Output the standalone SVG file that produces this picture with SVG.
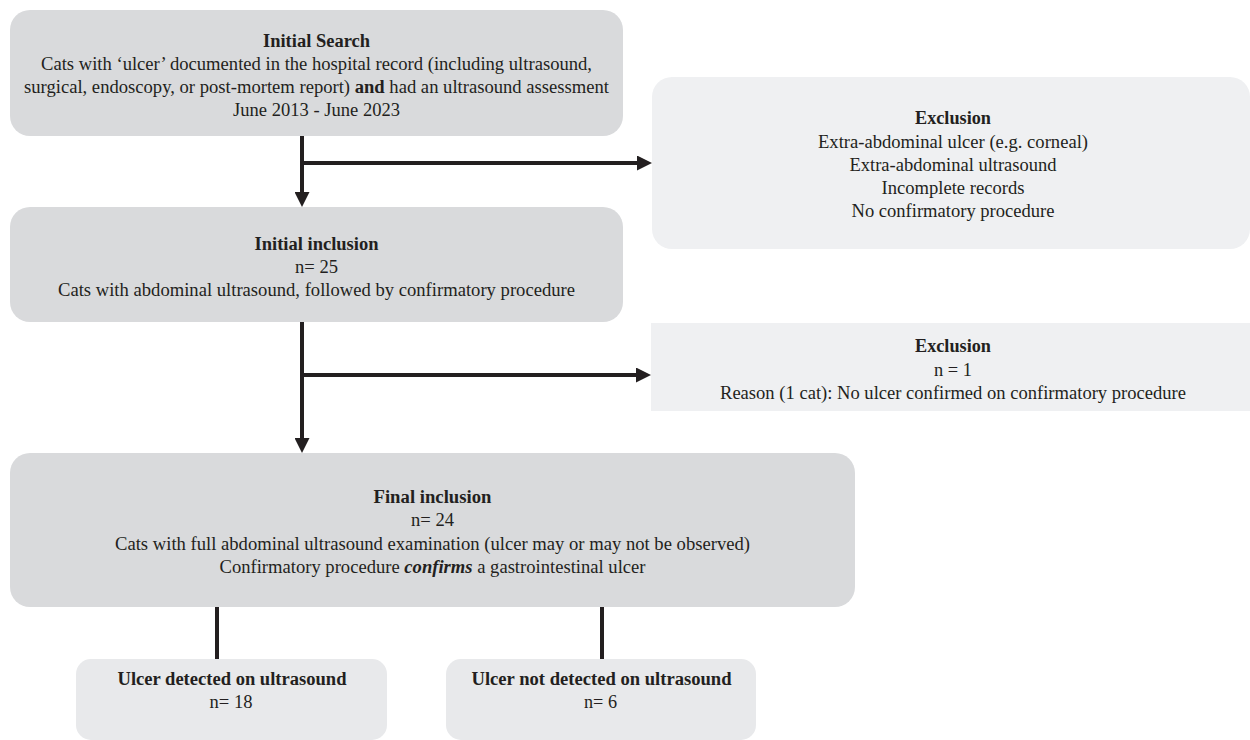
<svg xmlns="http://www.w3.org/2000/svg" width="1250" height="740" viewBox="0 0 1250 740">
<style>
.t{font-family:"Liberation Serif","Times New Roman",serif;font-size:18.5px;fill:#231f20;text-anchor:middle}
.b{font-weight:bold}
.dark{fill:#d9dadc}
.light{fill:#eff0f2}
.mid{fill:#e8e9eb}
.c{stroke:#231f20;stroke-width:4;fill:none}
</style>
<defs>
<marker id="ah" viewBox="0 0 15 15" markerWidth="15" markerHeight="15" refX="0" refY="7.5" orient="auto" markerUnits="userSpaceOnUse">
<path d="M0,0 L15,7.5 L0,15 Z" fill="#231f20"/>
</marker>
</defs>
<rect width="1250" height="740" fill="#ffffff"/>
<g id="connectors">
<line class="c" x1="302" y1="136" x2="302" y2="192" marker-end="url(#ah)"/>
<line class="c" x1="300" y1="163" x2="637" y2="163" marker-end="url(#ah)"/>
<line class="c" x1="302" y1="322" x2="302" y2="438" marker-end="url(#ah)"/>
<line class="c" x1="300" y1="375" x2="636" y2="375" marker-end="url(#ah)"/>
<line class="c" x1="217" y1="606" x2="217" y2="660"/>
<line class="c" x1="602" y1="606" x2="602" y2="660"/>
</g>
<g id="initial-search">
<rect class="dark" x="10" y="10" width="613" height="126" rx="20"/>
<text class="t b" x="316.5" y="46.5" textLength="107" lengthAdjust="spacingAndGlyphs">Initial Search</text>
<text class="t" x="316.5" y="70" textLength="551" lengthAdjust="spacingAndGlyphs">Cats with ‘ulcer’ documented in the hospital record (including ultrasound,</text>
<text class="t" x="316.5" y="93" textLength="585" lengthAdjust="spacingAndGlyphs">surgical, endoscopy, or post-mortem report) <tspan class="b">and</tspan> had an ultrasound assessment</text>
<text class="t" x="316.5" y="116" textLength="167" lengthAdjust="spacingAndGlyphs">June 2013 - June 2023</text>
</g>
<g id="exclusion-1">
<rect class="light" x="652" y="77" width="598" height="172" rx="20"/>
<text class="t b" x="953" y="124" textLength="76" lengthAdjust="spacingAndGlyphs">Exclusion</text>
<text class="t" x="953" y="147.5" textLength="270" lengthAdjust="spacingAndGlyphs">Extra-abdominal ulcer (e.g. corneal)</text>
<text class="t" x="953" y="170.5" textLength="207" lengthAdjust="spacingAndGlyphs">Extra-abdominal ultrasound</text>
<text class="t" x="953" y="194" textLength="143" lengthAdjust="spacingAndGlyphs">Incomplete records</text>
<text class="t" x="953" y="217" textLength="203" lengthAdjust="spacingAndGlyphs">No confirmatory procedure</text>
</g>
<g id="initial-inclusion">
<rect class="dark" x="10" y="207" width="613" height="115" rx="20"/>
<text class="t b" x="316.5" y="250" textLength="124" lengthAdjust="spacingAndGlyphs">Initial inclusion</text>
<text class="t" x="316.5" y="272.5" textLength="43" lengthAdjust="spacingAndGlyphs">n= 25</text>
<text class="t" x="316.5" y="295.5" textLength="517" lengthAdjust="spacingAndGlyphs">Cats with abdominal ultrasound, followed by confirmatory procedure</text>
</g>
<g id="exclusion-2">
<rect class="light" x="651" y="323" width="599" height="88"/>
<text class="t b" x="953" y="352" textLength="76" lengthAdjust="spacingAndGlyphs">Exclusion</text>
<text class="t" x="953" y="375.5" textLength="38" lengthAdjust="spacingAndGlyphs">n = 1</text>
<text class="t" x="953" y="399" textLength="466" lengthAdjust="spacingAndGlyphs">Reason (1 cat): No ulcer confirmed on confirmatory procedure</text>
</g>
<g id="final-inclusion">
<rect class="dark" x="10" y="453" width="845" height="154" rx="20"/>
<text class="t b" x="432.5" y="503" textLength="118" lengthAdjust="spacingAndGlyphs">Final inclusion</text>
<text class="t" x="432.5" y="526" textLength="43" lengthAdjust="spacingAndGlyphs">n= 24</text>
<text class="t" x="432.5" y="549.5" textLength="635" lengthAdjust="spacingAndGlyphs">Cats with full abdominal ultrasound examination (ulcer may or may not be observed)</text>
<text class="t" x="432.5" y="573" textLength="426" lengthAdjust="spacingAndGlyphs">Confirmatory procedure <tspan class="b" font-style="italic">confirms</tspan> a gastrointestinal ulcer</text>
</g>
<g id="ulcer-detected">
<rect class="mid" x="76" y="659" width="311" height="81" rx="15"/>
<text class="t b" x="232" y="684.5" textLength="229" lengthAdjust="spacingAndGlyphs">Ulcer detected on ultrasound</text>
<text class="t" x="231" y="707.5" textLength="43" lengthAdjust="spacingAndGlyphs">n= 18</text>
</g>
<g id="ulcer-not-detected">
<rect class="mid" x="446" y="659" width="310" height="81" rx="15"/>
<text class="t b" x="601.5" y="684.5" textLength="260" lengthAdjust="spacingAndGlyphs">Ulcer not detected on ultrasound</text>
<text class="t" x="600.5" y="707.5" textLength="33" lengthAdjust="spacingAndGlyphs">n= 6</text>
</g>
</svg>
